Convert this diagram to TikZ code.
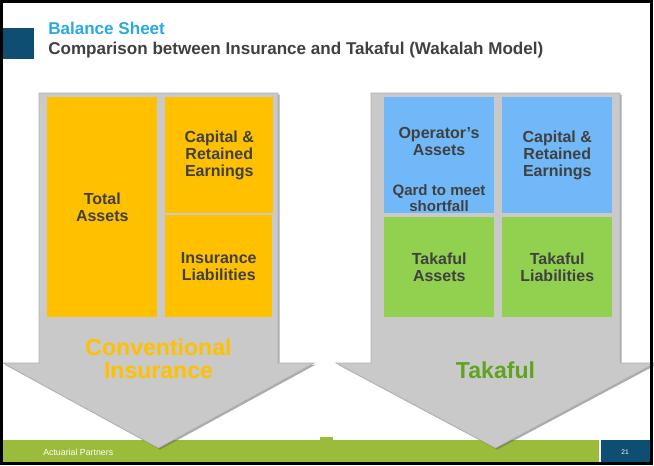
\documentclass[tikz,border=0pt]{standalone}
\usepackage{fontspec}
\setmainfont{Liberation Sans}
\usetikzlibrary{shadows}
\usepackage{xcolor}
\definecolor{tabblue}{RGB}{13,78,114}
\definecolor{titleblue}{RGB}{41,171,226}
\definecolor{textgray}{RGB}{64,64,64}
\definecolor{cellorange}{RGB}{255,192,0}
\definecolor{cellblue}{RGB}{113,184,248}
\definecolor{cellgreen}{RGB}{146,208,80}
\definecolor{arrowgray}{RGB}{201,201,201}
\definecolor{footgreen}{RGB}{155,187,59}
\definecolor{takgreen}{RGB}{94,164,30}
\newdimen\px \px=0.75pt

\begin{document}
\begin{tikzpicture}[x=0.75pt, y=-0.75pt,
  cell/.style={anchor=north west, inner sep=0pt, align=center, text=textgray,
    font=\fontsize{12}{12.75}\selectfont\bfseries},
  celltext/.style={inner sep=0pt, align=center, text=textgray,
    font=\fontsize{12}{12.75}\selectfont\bfseries},
  bigarrow/.style={fill=arrowgray, draw=black!30, line width=0.4pt,
    drop shadow={shadow xshift=1.2pt, shadow yshift=-1.2pt, opacity=0.55, fill=black!60}},
  biglabel/.style={inner sep=0pt, align=center,
    font=\fontsize{17.3}{17.6}\selectfont\bfseries}]
\useasboundingbox (0,0) rectangle (654,465);
\fill[white] (0,0) rectangle (654,465);

% heading
\fill[tabblue] (3,28) rectangle (34,59);
\node[anchor=base west, inner sep=0pt, text=titleblue, font=\fontsize{12.8}{13}\selectfont\bfseries]
  (title) at (48,34) {Balance Sheet};
\node[anchor=base west, inner sep=0pt, text=textgray, font=\fontsize{12.8}{13}\selectfont\bfseries]
  (subtitle) at (48,54) {Comparison between Insurance and Takaful (Wakalah Model)};

% footer
\fill[footgreen] (3,440) rectangle (599,463);
\fill[footgreen] (320,437) rectangle (333,440);
\fill[tabblue] (601,440) rectangle (650,463);
\node[anchor=west, inner sep=0pt, text=white, font=\fontsize{6.6}{7}\selectfont]
  (company) at (43,452) {Actuarial Partners};
\node[inner sep=0pt, text=white, font=\fontsize{5}{6}\selectfont] (pagenum) at (625,452) {21};

% the two big arrows
\draw[bigarrow] (39,93) -- (278,93) -- (278,363) -- (314,363) -- (158.5,448)
  -- (3,363) -- (39,363) -- cycle;
\draw[bigarrow] (371,93) -- (620,93) -- (620,363) -- (655,363) -- (495.5,448)
  -- (336,363) -- (371,363) -- cycle;

% conventional insurance
\node[cell, fill=cellorange, minimum width=110\px, minimum height=220\px] (totassets) at (47,97) {Total\\Assets};
\node[cell, fill=cellorange, minimum width=108\px, minimum height=116\px] (capital) at (165,97) {Capital \&\\Retained\\Earnings};
\node[cell, fill=cellorange, minimum width=107\px, minimum height=102\px] (insliab) at (165,215) {Insurance\\Liabilities};
\node[biglabel, text=cellorange] (conv) at (158.5,358.5) {Conventional\\Insurance};

% takaful
\node[cell, fill=cellblue, minimum width=110\px, minimum height=116\px] (opassets) at (384,97) {};
\node[celltext] (optext) at (439,141.5) {Operator’s\\Assets};
\node[celltext, font=\fontsize{11.3}{12}\selectfont\bfseries] (qard) at (439,198.5) {Qard to meet\\shortfall};
\node[cell, fill=cellblue, minimum width=110\px, minimum height=116\px] (takcapital) at (502,97) {Capital \&\\Retained\\Earnings};
\node[cell, fill=cellgreen, minimum width=110\px, minimum height=100\px] (takassets) at (384,217) {Takaful\\Assets};
\node[cell, fill=cellgreen, minimum width=110\px, minimum height=100\px] (takliab) at (502,217) {Takaful\\Liabilities};
\node[biglabel, text=takgreen] (takaful) at (495.5,370) {Takaful};

% frame
\draw[line width=3\px] (1.5,1.5) rectangle (651,463.5);
\end{tikzpicture}
\end{document}
